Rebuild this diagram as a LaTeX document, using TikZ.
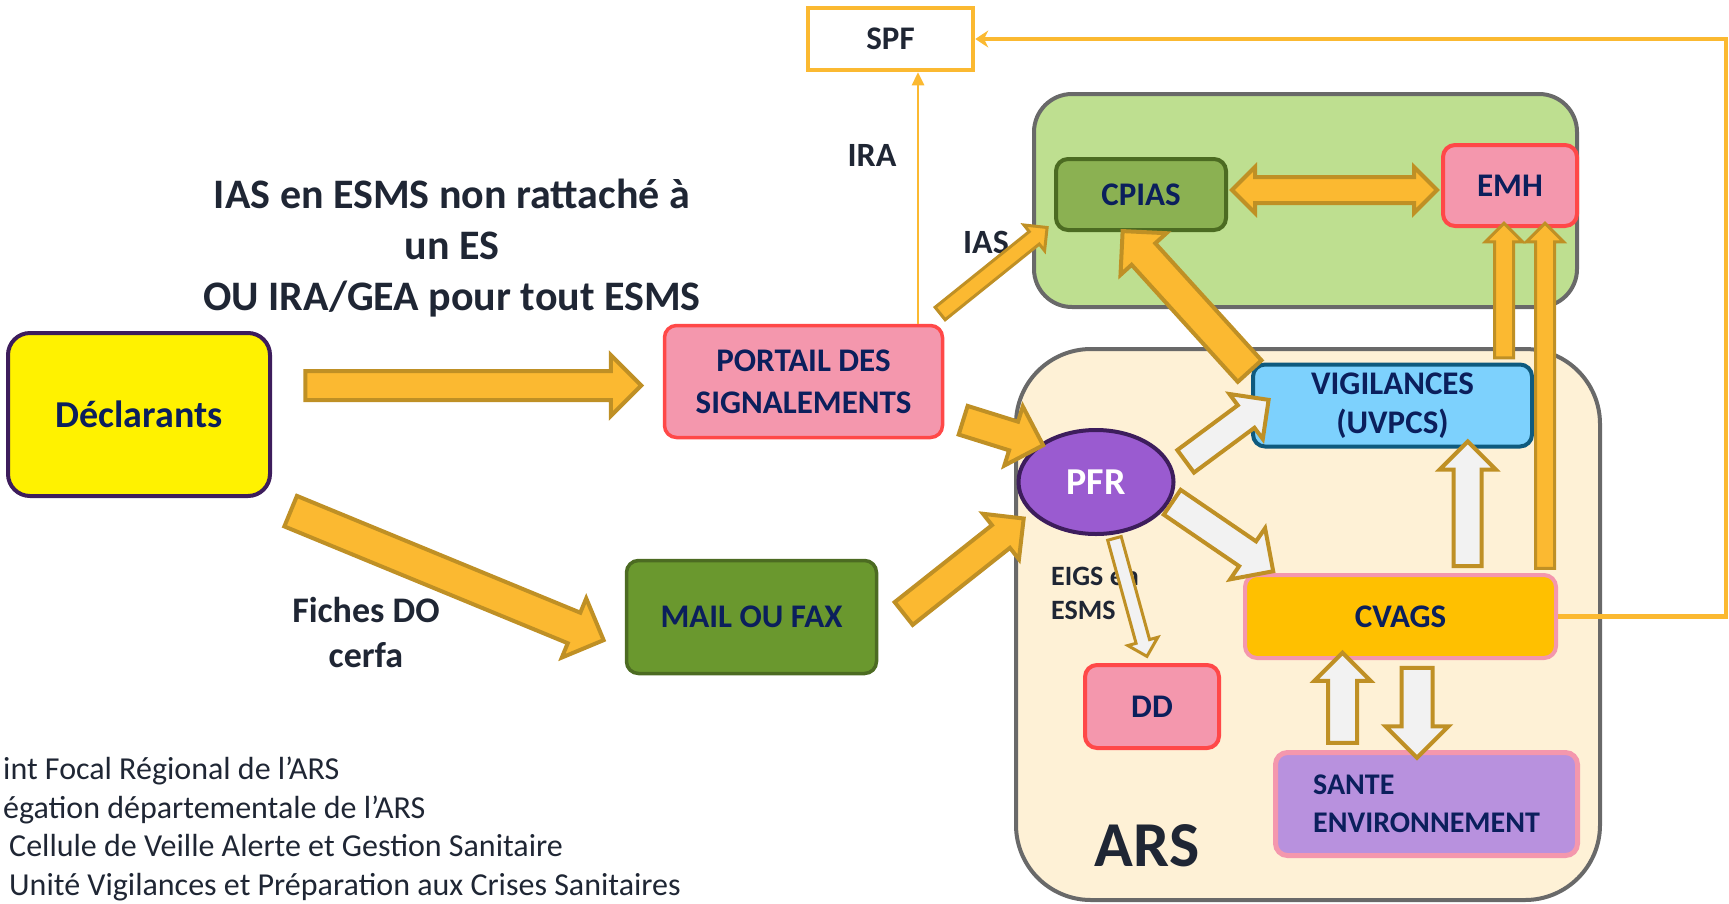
\documentclass[tikz,border=0pt]{standalone}
\usepackage{fontspec}
\setmainfont{Carlito}
\usepackage{xcolor}
\usepackage{tikz}
\usetikzlibrary{shapes.geometric, shapes.arrows, arrows.meta, calc}

\definecolor{navy}{HTML}{0B1F5C}
\definecolor{ink}{HTML}{1F2634}
\definecolor{arfill}{HTML}{FBB931}
\definecolor{arline}{HTML}{BF9025}
\definecolor{ghost}{HTML}{F2F2F2}
\definecolor{pinkfill}{HTML}{F497AD}
\definecolor{redline}{HTML}{FF4848}
\definecolor{olive}{HTML}{6A982E}
\definecolor{oliveline}{HTML}{4C6B22}
\definecolor{cpiasfill}{HTML}{8BB152}
\definecolor{zonegreen}{HTML}{BEDF90}
\definecolor{zonecream}{HTML}{FEF1D6}
\definecolor{zoneline}{HTML}{696969}
\definecolor{pfrfill}{HTML}{9A5BD0}
\definecolor{plum}{HTML}{3D1D5C}
\definecolor{skyfill}{HTML}{7DD1FD}
\definecolor{skyline}{HTML}{0E5A7E}
\definecolor{gold}{HTML}{FFC000}
\definecolor{lavender}{HTML}{B891DE}

\newcommand{\labfont}{\fontsize{33}{42}\selectfont\bfseries}
\newcommand{\fatarrow}[3][]{%
  \path let \p1=(#2), \p2=(#3), \n1={veclen(\x2-\x1,\y2-\y1)}, \n2={atan2(\y2-\y1,\x2-\x1)} in
    node[#1, minimum height=\n1, rotate=\n2] at ($(#2)!0.5!(#3)$) {};}

\begin{document}
\begin{tikzpicture}[x=1pt, y=-1pt, >=Stealth]
\tikzset{
  box/.style = {rectangle, rounded corners=12pt, line width=3.5pt, text=navy, font=\labfont, align=center, inner sep=0pt},
  zone/.style = {rectangle, draw=zoneline, line width=4pt, inner sep=0pt},
  note/.style = {text=ink, font=\labfont, align=center, inner sep=0pt},
  fat/.style args = {#1/#2}{single arrow, draw=arline, fill=arfill, line width=4pt, inner xsep=0pt, inner ysep=#1/2, single arrow head extend={(#2-#1)/2}},
  hollow/.style args = {#1/#2}{fat=#1/#2, fill=ghost},
  twin/.style args = {#1/#2}{double arrow, draw=arline, fill=arfill, line width=4pt, inner xsep=0pt, inner ysep=#1/2, double arrow head extend={(#2-#1)/2}},
  spfline/.style = {draw=arfill, line width=4.5pt},
  iraline/.style = {draw=arfill, line width=2.5pt}
}
\useasboundingbox (0,0) rectangle (1729,903);

\node [zone, fill=zonegreen, rounded corners=38pt, minimum width=543pt, minimum height=213pt] (santepub) at (1305.5,200.5) {};
\node [zone, fill=zonecream, rounded corners=75pt, minimum width=584pt, minimum height=551pt] (ars) at (1308,624.5) {};

\node [box, fill=yellow, draw=plum, line width=4pt, rounded corners=22pt, minimum width=262pt, minimum height=163pt, font=\fontsize{38}{44}\selectfont\bfseries] (decl) at (139,414.5) {Déclarants};
\node [box, fill=pinkfill, draw=redline, minimum width=278pt, minimum height=112pt] (portail) at (803.5,381.5) {PORTAIL DES\\SIGNALEMENTS};
\node [box, fill=olive, draw=oliveline, minimum width=250pt, minimum height=113pt] (mail) at (751.5,617) {MAIL OU FAX};
\node [box, rounded corners=0pt, fill=white, draw=arfill, line width=4.5pt, text=ink, minimum width=165pt, minimum height=62pt] (spf) at (890.5,39) {SPF};
\node [box, fill=cpiasfill, draw=oliveline, line width=4pt, minimum width=170pt, minimum height=71pt] (cpias) at (1141,194.5) {CPIAS};
\node [box, fill=pinkfill, draw=redline, line width=4pt, minimum width=134pt, minimum height=81pt] (emh) at (1510,185.5) {EMH};
\node [ellipse, fill=pfrfill, draw=plum, line width=4pt, text=white, font=\fontsize{38}{44}\selectfont\bfseries, minimum width=155pt, minimum height=104pt, inner sep=0pt] (pfr) at (1096,482) {PFR};
\node [box, fill=skyfill, draw=skyline, line width=4pt, minimum width=279pt, minimum height=82pt, font=\fontsize{33}{39}\selectfont\bfseries] (vig) at (1392.5,405.5) {VIGILANCES\\(UVPCS)};
\node [box, fill=gold, draw=pinkfill, line width=4pt, minimum width=311pt, minimum height=83pt] (cvags) at (1400.5,616.5) {CVAGS};
\node [box, fill=pinkfill, draw=redline, line width=4pt, minimum width=134pt, minimum height=83pt] (dd) at (1152,706.5) {DD};
\node [box, fill=lavender, draw=pinkfill, line width=5pt, minimum width=302pt, minimum height=103pt, align=left, font=\fontsize{30}{38}\selectfont\bfseries] (sante) at (1426.5,804) {SANTE\\ENVIRONNEMENT};

\node [note, font=\fontsize{42}{51}\selectfont\bfseries] (titre) at (452,248) {IAS en ESMS non rattaché à\\un ES\\OU IRA/GEA pour tout ESMS};
\node [note, font=\fontsize{34}{40}\selectfont\bfseries] (ira) at (872,155) {IRA};
\node [note, font=\fontsize{34}{40}\selectfont\bfseries] (ias) at (986,242) {IAS};
\node [note, font=\fontsize{36}{45}\selectfont\bfseries] (fiches) at (366,632) {Fiches DO\\cerfa};
\node [note, anchor=west, align=left, font=\fontsize{28}{34}\selectfont\bfseries] (eigs) at (1051,593) {EIGS en\\ESMS};
\node [note, font=\fontsize{64}{70}\selectfont\bfseries] (arslabel) at (1147,846) {ARS};
\node [note, anchor=north west, align=left, font=\fontsize{32}{38.6}\selectfont] (legende) at (3,757) {int Focal Régional de l’ARS\\égation départementale de l’ARS\\\hspace{6pt}Cellule de Veille Alerte et Gestion Sanitaire\\\hspace{6pt}Unité Vigilances et Préparation aux Crises Sanitaires};

\coordinate (decl-e) at (298,385.5);
\coordinate (portail-w) at (634,385.5);
\coordinate (decl-se) at (283,508);
\coordinate (mail-w) at (596,637);
\coordinate (mail-e) at (898,618);
\coordinate (pfr-sw) at (1018,523);
\coordinate (portail-e) at (956,418);
\coordinate (pfr-nw) at (1036,443);
\coordinate (portail-ne) at (937,316);
\coordinate (santepub-w) at (1044,230);
\coordinate (vig-nw) at (1255,377);
\coordinate (cpias-s) at (1128,237);
\coordinate (pfr-ne) at (1180,465.5);
\coordinate (vig-w) at (1263,404);
\coordinate (pfr-e) at (1166,498);
\coordinate (cvags-nw) at (1267,567);
\coordinate (pfr-s) at (1113.5,535);
\coordinate (dd-n) at (1146,653);
\coordinate (rim) at (1726,39);
\coordinate (irafoot) at (918,324);

\fatarrow[fat=25/57]{decl-e}{portail-w}
\fatarrow[fat=29/60]{decl-se}{mail-w}
\fatarrow[fat=25/54]{mail-e}{pfr-sw}
\fatarrow[fat=26/58]{portail-e}{pfr-nw}
\fatarrow[fat=13/30, line width=3pt]{portail-ne}{santepub-w}
\fatarrow[fat=28/58]{vig-nw}{cpias-s}
\fatarrow[hollow=24/52]{pfr-ne}{vig-w}
\fatarrow[hollow=26/58]{pfr-e}{cvags-nw}
\fatarrow[hollow=11/28, line width=3pt]{pfr-s}{dd-n}
\fatarrow[hollow=24/52]{cvags.north -| 1467.7,0}{vig.south -| 1467.7,0}
\fatarrow[hollow=25/52]{sante.north -| 1342.5,0}{cvags.south -| 1342.5,0}
\fatarrow[hollow=27/59]{cvags.south -| 1417,0}{sante.north -| 1417,0}
\fatarrow[fat=16/34, line width=3pt]{vig.north -| 1504,0}{emh.south -| 1504,0}
\fatarrow[fat=16/34, line width=3pt]{cvags.north -| 1545,0}{emh.south -| 1545,0}
\path let \p1=(cpias.east), \p2=(emh.west) in node[twin=22/42, minimum height={\x2-\x1-8}] (lien) at ($(cpias.east)!0.5!(emh.west)$) {};

\draw [spfline, -{Stealth[length=13pt, width=17pt]}] (cvags.east) -| (rim) -- (spf.east);
\draw [iraline, -{Triangle[length=13pt, width=12pt]}] (irafoot) -- (irafoot |- spf.south);
\end{tikzpicture}
\end{document}
